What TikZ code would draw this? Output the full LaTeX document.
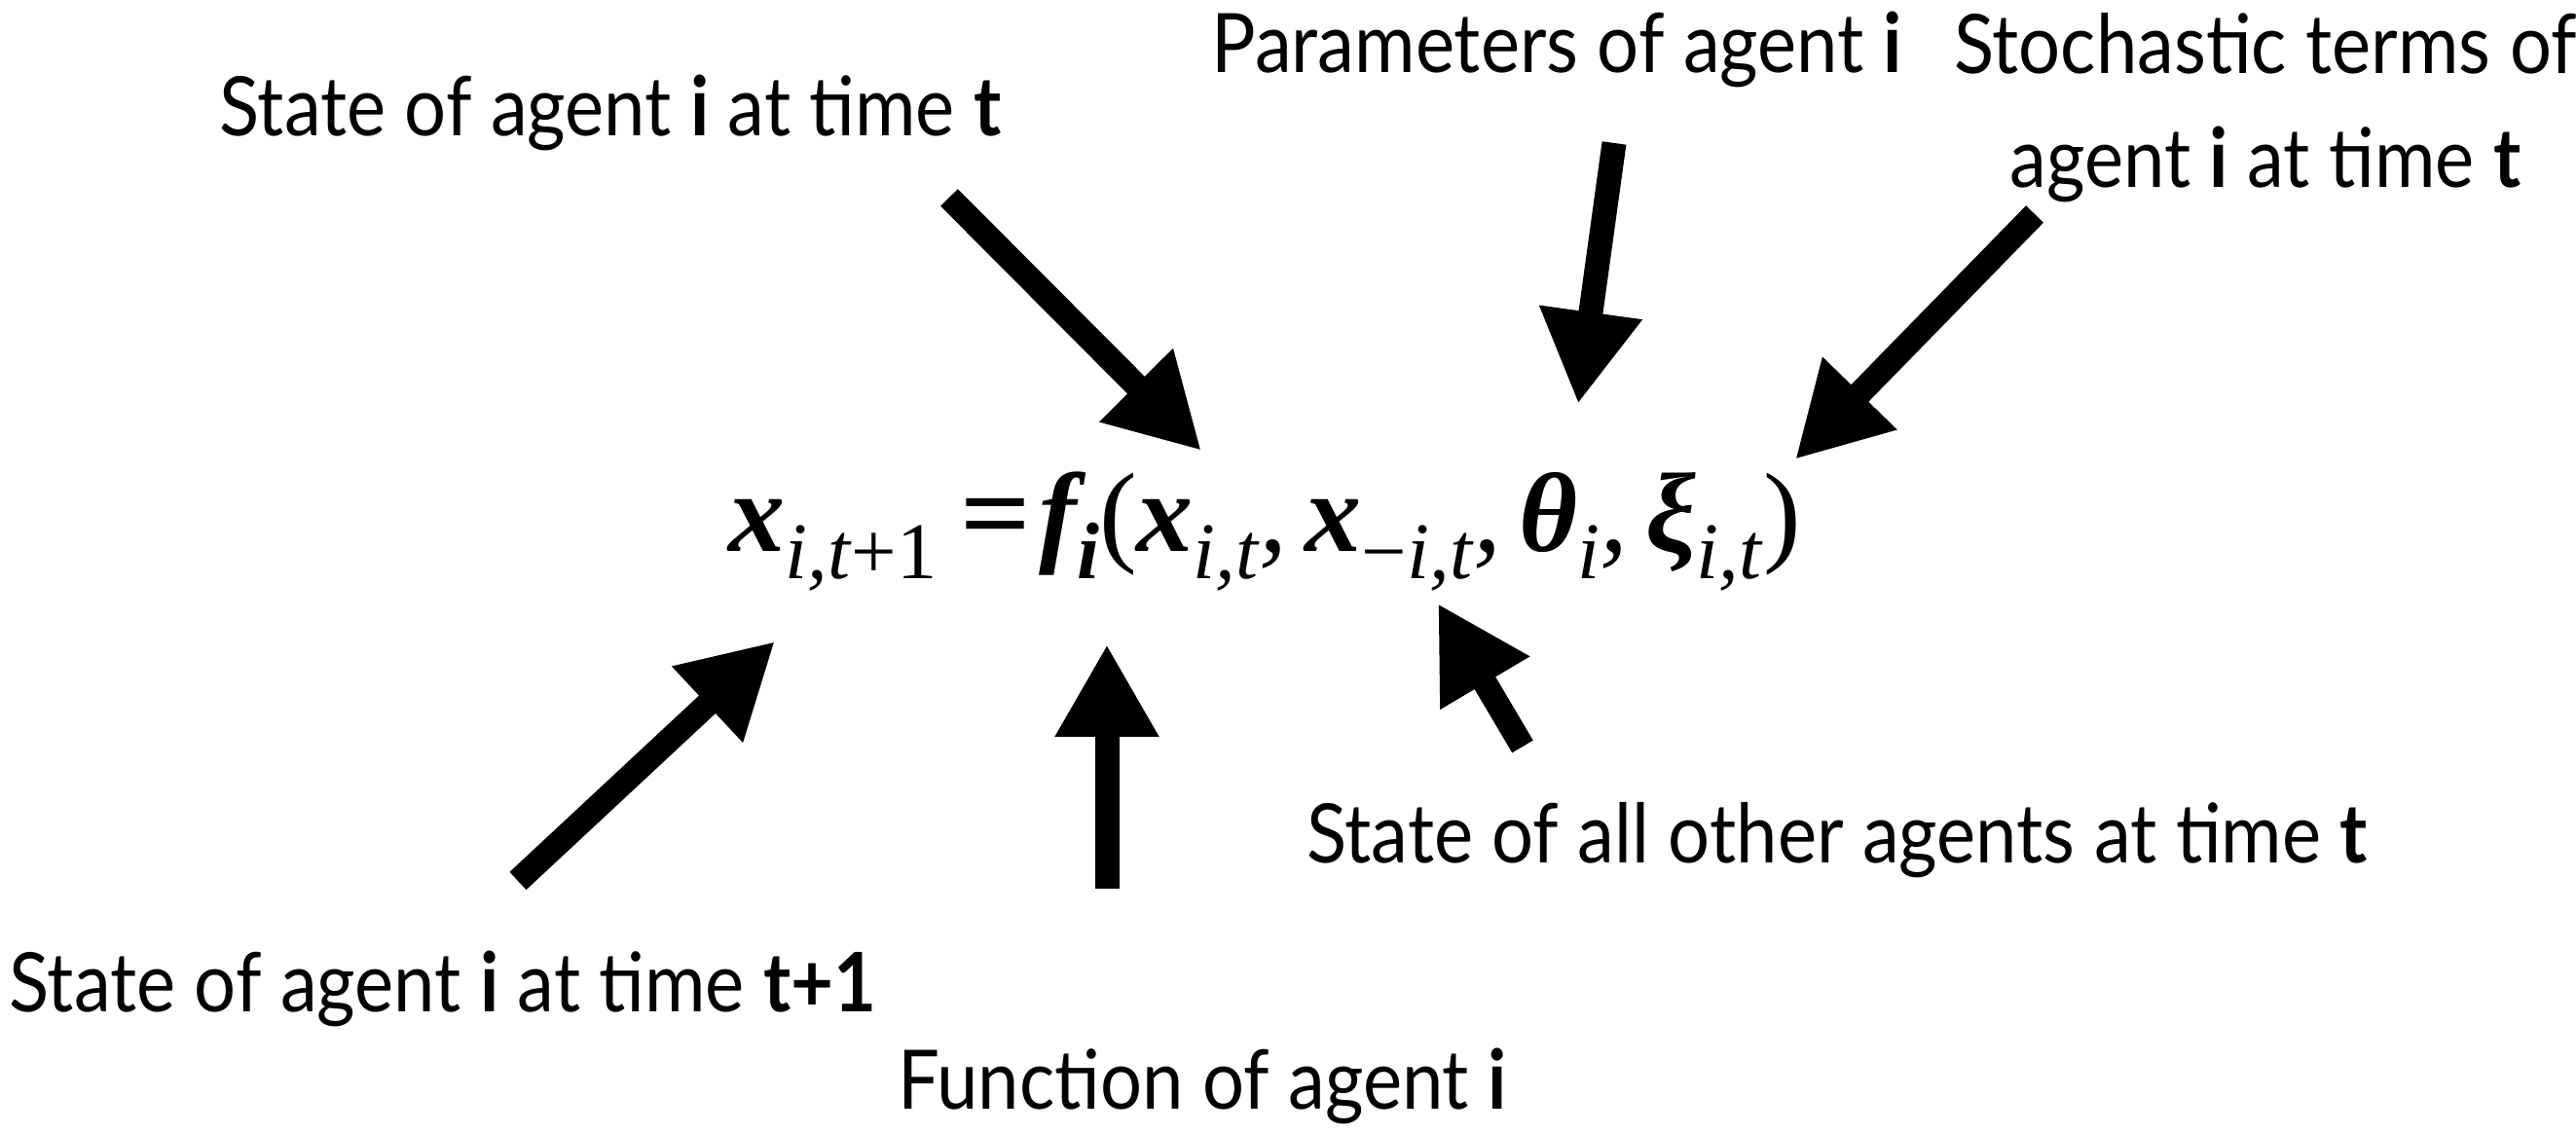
\documentclass[tikz,border=0pt]{standalone}
\usepackage{fontspec}
\setmainfont{Lato}[FakeStretch=0.9]
\newfontfamily\eqfont{Liberation Serif}
\usetikzlibrary{arrows.meta}
\newcommand{\lblfont}{\fontsize{24pt}{33.5pt}\selectfont}
% equation pieces
\newcommand{\eqV}[1]{{\bfseries\itshape #1}}
\newcommand{\eqsub}[1]{\raisebox{-0.28cm}{\fontsize{23.5pt}{24pt}\selectfont #1}}
\newcommand{\eqcomma}{\textit{,}\hspace{0.18cm}}

\begin{document}
\begin{tikzpicture}[font=\lblfont,
  lab/.style={anchor=base,inner sep=0,align=center},
  arr/.style={-{Triangle[length=9.5mm,width=10mm]},line width=2.5mm}]
  \useasboundingbox (0,0) rectangle (26.46,11.64);
  \node[anchor=base west,inner sep=0] (eq) at (7.48,5.97)
    {\eqfont\fontsize{33pt}{40pt}\selectfont
     \eqV{x}\eqsub{\textit{i,t}+1}\hspace{0.24cm}\scalebox{1.1}[1]{\textbf{=}}\hspace{0.08cm}%
     \eqV{f}\eqsub{\eqV{i}}(\eqV{x}\eqsub{\textit{i,t}}\eqcomma
     \eqV{x}\eqsub{−\textit{i,t}}\eqcomma\eqV{θ}\eqsub{\textit{i}}\eqcomma
     \eqV{ξ}\eqsub{\textit{i,t}})};

  \foreach \name/\x/\y/\txt in {
    nowst/6.27/10.24/{State of agent \textbf{i} at time \textbf{t}},
    param/15.99/10.89/{Parameters of agent \textbf{i}},
    noise/23.27/9.71/{Stochastic terms of\\agent \textbf{i} at time \textbf{t}},
    nextst/4.55/1.24/{State of agent \textbf{i} at time \textbf{t+1}},
    func/12.35/0.24/{Function of agent \textbf{i}},
    others/18.87/2.77/{State of all other agents at time \textbf{t}}}
    \node[lab] (\name) at (\x,\y) {\txt};

  \foreach \name/\x/\y in {
    a1/9.75/9.61,b1/12.34/7.01,a2/16.58/10.17,b2/16.21/7.49,
    a3/20.90/9.44,b3/18.44/6.92,a4/5.32/2.59,b4/7.96/5.05,
    a5/11.37/2.51,b5/11.37/5.02,a6/15.64/3.97,b6/14.77/5.44}
    \coordinate (\name) at (\x,\y);
  \foreach \i in {1,...,6}
    \draw[arr] (a\i) -- (b\i);
\end{tikzpicture}
\end{document}
